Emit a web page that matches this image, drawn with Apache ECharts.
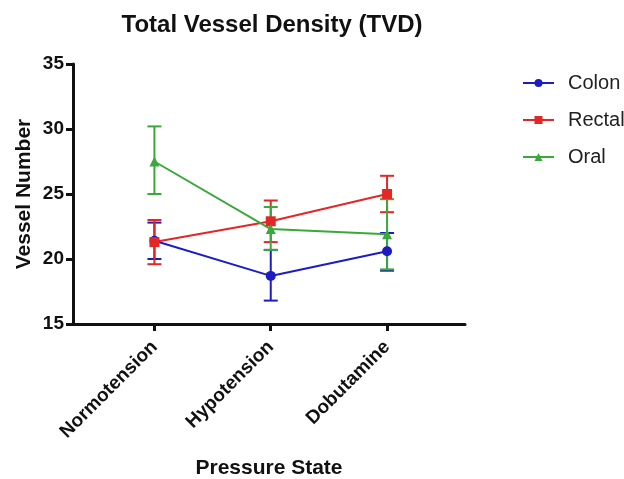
<!DOCTYPE html>
<html><head><meta charset="utf-8">
<script src="https://cdn.jsdelivr.net/npm/echarts@6/dist/echarts.min.js"></script>
<style>html,body{margin:0;padding:0;background:#fff}#c{width:624px;height:479px}</style>
</head><body><div id="c"></div>
<script>
const categories = ['Normotension', 'Hypotension', 'Dobutamine'];
const colonMean = [21.4, 18.7, 20.6];
const colonLow = [20.0, 16.8, 19.1];
const colonHigh = [22.8, 20.7, 22.0];
const rectalMean = [21.3, 22.9, 25.0];
const rectalLow = [19.6, 21.3, 23.6];
const rectalHigh = [23.0, 24.5, 26.4];
const oralMean = [27.5, 22.3, 21.9];
const oralLow = [25.0, 20.7, 19.2];
const oralHigh = [30.2, 24.0, 24.6];
const yTicks = [15, 20, 25, 30, 35];

const colors = {colon: '#1c1cc4', rectal: '#e32626', oral: '#3aa83a'};
const font = 'Liberation Sans, Arial, sans-serif';

function pairs(arr) { return arr.map((v, i) => [i, v]); }
function errData(low, high) { return low.map((l, i) => [i, l, high[i]]); }
function errSeries(low, high, color) {
  return {
    type: 'custom', silent: true, z: 1,
    data: errData(low, high),
    renderItem: function (params, api) {
      const x = api.value(0);
      const lo = api.coord([x, api.value(1)]);
      const hi = api.coord([x, api.value(2)]);
      const w = 7;
      const st = {stroke: color, lineWidth: 2};
      return {type: 'group', children: [
        {type: 'line', shape: {x1: lo[0], y1: lo[1], x2: hi[0], y2: hi[1]}, style: st},
        {type: 'line', shape: {x1: lo[0]-w, y1: lo[1], x2: lo[0]+w, y2: lo[1]}, style: st},
        {type: 'line', shape: {x1: hi[0]-w, y1: hi[1], x2: hi[0]+w, y2: hi[1]}, style: st}
      ]};
    }
  };
}
function lineSeries(name, data, color, symbol, size) {
  return {name: name, type: 'line', data: pairs(data), symbol: symbol, symbolSize: size,
    lineStyle: {color: color, width: 2}, itemStyle: {color: color}, z: 3};
}

const chart = echarts.init(document.getElementById('c'));
chart.setOption({
  animation: false,
  title: {text: 'Total Vessel Density (TVD)', left: 267, textAlign: 'center', top: 8,
    textStyle: {fontFamily: font, fontSize: 24, fontWeight: 'bold', color: '#111'}},
  legend: {orient: 'vertical', left: 517, top: 68, itemGap: 17, itemWidth: 31, itemHeight: 10,
    data: ['Colon', 'Rectal', 'Oral'],
    textStyle: {fontFamily: font, fontSize: 20, color: '#222', padding: [0, 0, 0, 9]}},
  grid: {left: 73, right: 159, top: 64, bottom: 155, containLabel: false, outerBoundsMode: 'none'},
  xAxis: {
    type: 'value', min: -0.7, max: 2.67,
    name: 'Pressure State', nameLocation: 'middle', nameGap: 134,
    nameTextStyle: {fontFamily: font, fontSize: 21, fontWeight: 'bold', color: '#111'},
    axisLine: {show: true, onZero: false, lineStyle: {color: '#111', width: 3}},
    axisTick: {show: true, customValues: [0, 1, 2], length: 7, lineStyle: {color: '#111', width: 3}},
    axisLabel: {customValues: [0, 1, 2], rotate: 45, margin: 20,
      formatter: v => categories[Math.round(v)] || '',
      fontFamily: font, fontSize: 19, fontWeight: 'bold', color: '#111'},
    splitLine: {show: false}
  },
  yAxis: {
    type: 'value', min: 15, max: 35, interval: 5,
    name: 'Vessel Number', nameLocation: 'middle', nameGap: 38, nameMoveOverlap: false,
    nameTextStyle: {fontFamily: font, fontSize: 21, fontWeight: 'bold', color: '#111'},
    axisLine: {show: true, onZero: false, lineStyle: {color: '#111', width: 3}},
    axisTick: {show: true, length: 7, lineStyle: {color: '#111', width: 3}},
    axisLabel: {customValues: yTicks, margin: 9, fontFamily: font, fontSize: 19, fontWeight: 'bold', color: '#111'},
    splitLine: {show: false}
  },
  series: [
    errSeries(colonLow, colonHigh, colors.colon),
    errSeries(rectalLow, rectalHigh, colors.rectal),
    errSeries(oralLow, oralHigh, colors.oral),
    lineSeries('Colon', colonMean, colors.colon, 'circle', 10),
    lineSeries('Rectal', rectalMean, colors.rectal, 'rect', 10),
    lineSeries('Oral', oralMean, colors.oral, 'triangle', 10)
  ]
});
</script></body></html>
